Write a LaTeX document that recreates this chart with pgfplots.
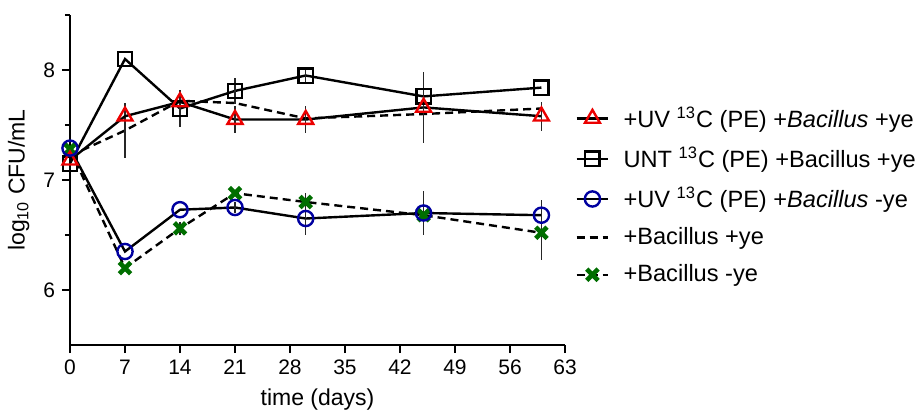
\documentclass[border=0pt]{standalone}
\usepackage{fontspec}
\setmainfont{Liberation Sans}
\usepackage{pgfplots}
\pgfplotsset{compat=1.18}
\definecolor{uvred}{RGB}{235,0,0}
\definecolor{uvblue}{RGB}{0,0,160}
\definecolor{bacgreen}{RGB}{0,110,0}

\begin{document}
\begin{tikzpicture}
\begin{axis}[
    at={(0,0)}, anchor=south west,
    scale only axis,
    width=247.5pt, height=165pt,
    xmin=0, xmax=63, ymin=5.5, ymax=8.5,
    axis x line=bottom, axis y line=left,
    axis line style={-, line width=0.7pt},
    tick align=outside,
    major tick length=4pt, minor tick length=2.5pt,
    every tick/.style={line width=0.7pt, black},
    xtick={0,7,14,21,28,35,42,49,56,63},
    ytick={6,7,8},
    minor ytick={6.5,7.5,8.5},
    /pgf/number format/assume math mode=true,
    ticklabel style={font=\fontsize{10.5}{12}\selectfont},
    label style={font=\fontsize{11.5}{13}\selectfont},
    xlabel={time (days)},
    ylabel={log\textsubscript{10} CFU/mL},
    clip=false,
    legend style={draw=none, fill=none, at={(1.02,0.735)}, anchor=north west,
        font=\fontsize{11.8}{13}\selectfont, row sep=4.5pt, column sep=5pt,
        inner sep=0pt, cells={anchor=west}},
    legend cell align=left,
    legend image code/.code={
        \draw[mark repeat=2, mark phase=2, #1] plot coordinates {(0cm,0cm) (0.28cm,0cm) (0.56cm,0cm)};
    },
    error bars/error bar style={line width=0.6pt, black!85, solid},
    error bars/error mark=none,
]
% legend entries in the order of the key
\addlegendimage{black, line width=1.2pt, mark=triangle, mark size=4.3pt, mark options={uvred, line width=1.2pt}}
\addlegendentry{+UV \textsuperscript{13}C (PE) +\textit{Bacillus} +ye}
\addlegendimage{black, line width=1.2pt, mark=square, mark size=3.6pt, mark options={black, line width=1.2pt}}
\addlegendentry{UNT \textsuperscript{13}C (PE) +Bacillus +ye}
\addlegendimage{black, line width=1.2pt, mark=o, mark size=3.8pt, mark options={uvblue, line width=1.2pt}}
\addlegendentry{+UV \textsuperscript{13}C (PE) +\textit{Bacillus} -ye}
\addlegendimage{black, line width=1.2pt, dash pattern=on 4pt off 2.5pt}
\addlegendentry{+Bacillus +ye}
\addlegendimage{black, line width=1.2pt, dash pattern=on 4pt off 2.5pt, mark=x, mark size=4pt, mark options={bacgreen, line width=2.3pt, solid}}
\addlegendentry{+Bacillus -ye}

% +Bacillus +ye (dashed, no marks)
\addplot[forget plot, black, line width=1.2pt, dash pattern=on 4pt off 2.5pt,
    error bars/.cd, y dir=both, y explicit] coordinates {
    (0,7.22) +- (0,0)
    (7,7.45) +- (0,0.25)
    (14,7.72) +- (0,0)
    (21,7.70) +- (0,0)
    (30,7.56) +- (0,0)
    (45,7.60) +- (0,0)
    (60,7.65) +- (0,0)
};
% +Bacillus -ye
\addplot[forget plot, black, line width=1.2pt, dash pattern=on 4pt off 2.5pt,
    mark=x, mark size=4pt, mark options={bacgreen, line width=2.3pt, solid},
    error bars/.cd, y dir=both, y explicit] coordinates {
    (0,7.28) +- (0,0)
    (7,6.20) +- (0,0)
    (14,6.56) +- (0,0.06)
    (21,6.88) +- (0,0)
    (30,6.80) +- (0,0.08)
    (45,6.68) +- (0,0.1)
    (60,6.52) +- (0,0.25)
};
% UNT 13C (PE) +Bacillus +ye
\addplot[forget plot, black, line width=1.2pt,
    mark=square, mark size=3.6pt, mark options={black, line width=1.2pt},
    error bars/.cd, y dir=both, y explicit] coordinates {
    (0,7.15) +- (0,0)
    (7,8.10) +- (0,0)
    (14,7.65) +- (0,0.17)
    (21,7.81) +- (0,0.12)
    (30,7.95) +- (0,0.06)
    (45,7.76) +- (0,0)
    (60,7.84) +- (0,0)
};
% +UV 13C (PE) +Bacillus +ye
\addplot[forget plot, black, line width=1.2pt,
    mark=triangle, mark size=4.3pt, mark options={uvred, line width=1.2pt},
    error bars/.cd, y dir=both, y explicit] coordinates {
    (0,7.18) +- (0,0)
    (7,7.58) +- (0,0)
    (14,7.71) +- (0,0)
    (21,7.55) +- (0,0.12)
    (30,7.55) +- (0,0.12)
    (45,7.66) +- (0,0.32)
    (60,7.58) +- (0,0.13)
};
% +UV 13C (PE) +Bacillus -ye
\addplot[forget plot, black, line width=1.2pt,
    mark=o, mark size=3.8pt, mark options={uvblue, line width=1.2pt},
    error bars/.cd, y dir=both, y explicit] coordinates {
    (0,7.29) +- (0,0)
    (7,6.35) +- (0,0)
    (14,6.73) +- (0,0)
    (21,6.75) +- (0,0.05)
    (30,6.65) +- (0,0.15)
    (45,6.70) +- (0,0.2)
    (60,6.68) +- (0,0.14)
};
\end{axis}
\pgfresetboundingbox
\useasboundingbox (-35pt,-34.5pt) rectangle (424.5pt,172.5pt);
\end{tikzpicture}
\end{document}
